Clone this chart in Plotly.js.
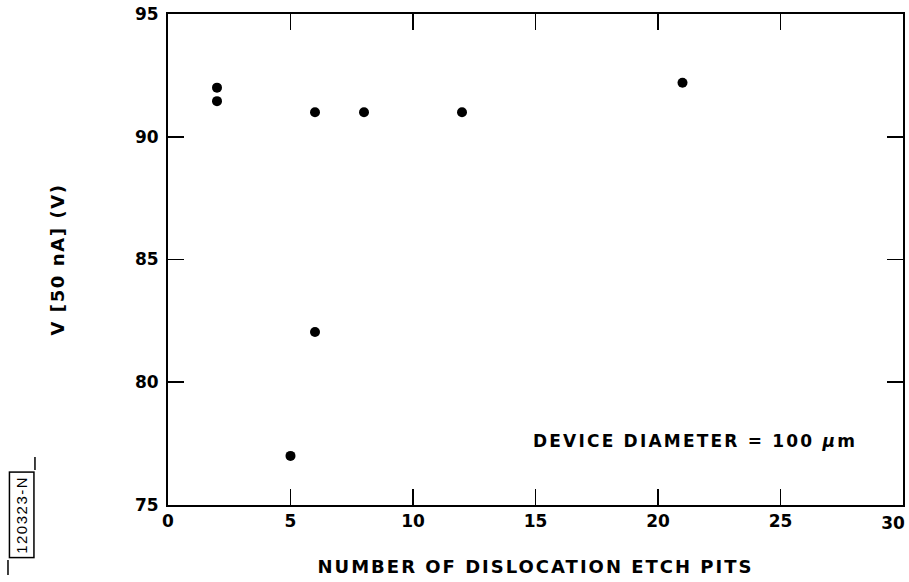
<!DOCTYPE html>
<html>
<head>
<meta charset="utf-8">
<script src="https://cdn.plot.ly/plotly-3.0.1.min.js"></script>
<style>html,body{margin:0;padding:0;background:#fff;}#chart{width:909px;height:582px;}</style>
</head>
<body>
<div id="chart"></div>
<script>
const etchPits = [2, 2, 5, 6, 6, 8, 12, 21];
const voltage = [92.0, 91.45, 77.0, 82.05, 91.0, 91.0, 91.0, 92.2];
const xTicks = [0, 5, 10, 15, 20, 25, 30];
const yTicks = [75, 80, 85, 90, 95];
const xTickText = ['0', '5', '10', '15', '20', '25', '30'];
const yTickText = ['75', '80', '85', '90', '95'];

const font = {family: '"DejaVu Sans", "Liberation Sans", Arial, sans-serif', color: '#000'};
const spaced = (t, px) => '<span style="letter-spacing:' + px + 'px"><b>' + t + '</b></span>';

const trace = {
  x: etchPits, y: voltage, type: 'scatter', mode: 'markers',
  marker: {color: '#000', size: 10}, hoverinfo: 'skip'
};
// empty helper trace so the overlay axis carrying the last (edge) tick label is drawn
const edgeTrace = {x: [], y: [], type: 'scatter', mode: 'markers', xaxis: 'x2', yaxis: 'y', hoverinfo: 'skip'};

const axisCommon = {
  showgrid: false, zeroline: false, showline: true, linecolor: '#000', linewidth: 2,
  mirror: 'ticks', ticks: 'inside', ticklen: 16, tickwidth: 1.8, tickcolor: '#000',
  tickfont: Object.assign({size: 17}, font)
};

const lastX = xTicks.length - 1;

const layout = {
  width: 909, height: 582,
  margin: {l: 168, r: 6, t: 14, b: 77},
  paper_bgcolor: '#fff', plot_bgcolor: '#fff',
  showlegend: false,
  xaxis: Object.assign({}, axisCommon, {
    range: [0, 30], tickvals: xTicks,
    ticktext: xTickText.map((t, i) => i === lastX ? '' : '<b>' + t + '</b>'),
    title: {text: spaced('NUMBER OF DISLOCATION ETCH PITS', 2), standoff: 30,
            font: Object.assign({size: 18}, font)}
  }),
  xaxis2: {
    overlaying: 'x', side: 'bottom', range: [0, 30], anchor: 'y',
    showgrid: false, zeroline: false, showline: false, ticks: '',
    tickvals: [xTicks[lastX]], ticktext: ['<b>' + xTickText[lastX] + '</b>'],
    ticklabelshift: -10, ticklabelstandoff: 6,
    tickfont: Object.assign({size: 17}, font)
  },
  yaxis: Object.assign({}, axisCommon, {
    range: [75, 95], tickvals: yTicks, ticktext: yTickText.map(t => '<b>' + t + '</b>'),
    ticklabelstandoff: 4,
    title: {text: spaced('V [50 nA] (V)', 1.6), standoff: 66,
            font: Object.assign({size: 18}, font)}
  }),
  annotations: [
    {xref: 'x', yref: 'y', x: 28.2, y: 77.6, xanchor: 'right', yanchor: 'middle',
     text: '<span style="letter-spacing:2.2px"><b>DEVICE DIAMETER = 100 <i>μ</i>m</b></span>', showarrow: false,
     font: Object.assign({size: 17}, font)},
    {xref: 'paper', yref: 'paper', x: -0.1993, y: -0.02, xanchor: 'center', yanchor: 'middle',
     text: '<span style="letter-spacing:1.5px">120323-N</span>', textangle: -90, showarrow: false,
     font: Object.assign({size: 15, family: '"Liberation Sans", Arial, sans-serif', color: '#000'}),
     bordercolor: '#000', borderwidth: 1.5, borderpad: 3}
  ],
  shapes: [
    {type: 'line', xref: 'paper', yref: 'paper', x0: -0.181, x1: -0.181, y0: 0.0713, y1: 0.0978,
     line: {color: '#000', width: 1.5}},
    {type: 'line', xref: 'paper', yref: 'paper', x0: -0.2177, x1: -0.2177, y0: -0.1426, y1: -0.112,
     line: {color: '#000', width: 1.5}}
  ]
};

Plotly.newPlot('chart', [trace, edgeTrace], layout, {displayModeBar: false, staticPlot: true});
</script>
</body>
</html>
